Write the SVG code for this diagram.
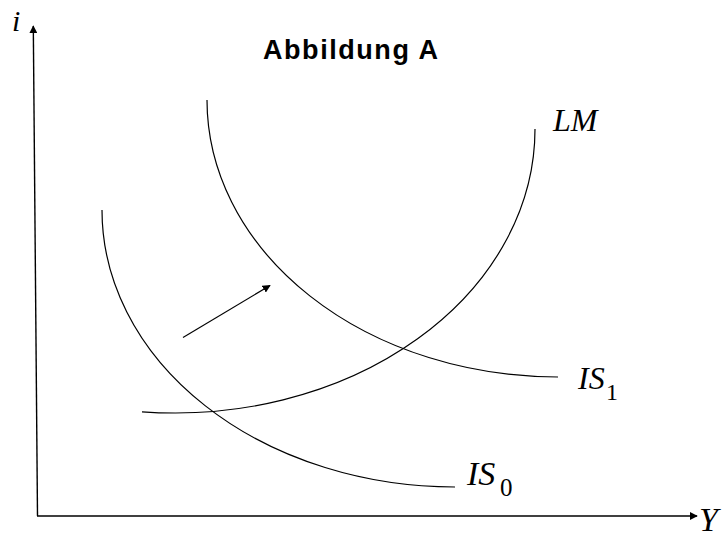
<svg xmlns="http://www.w3.org/2000/svg" width="722" height="537" viewBox="0 0 722 537">
<style>
.curve{fill:none;stroke:#000;stroke-width:1.2}
.axis{fill:none;stroke:#000;stroke-width:1.4}
.math{font-family:"Liberation Serif","Times New Roman",serif;font-style:italic;fill:#000}
.sub{font-family:"Liberation Serif","Times New Roman",serif;font-style:normal;fill:#000}
.title{font-family:"Liberation Sans",Arial,sans-serif;font-weight:bold;fill:#000}
</style>
<defs>
<marker id="ah" viewBox="0 0 10 10" refX="9" refY="5" markerWidth="8" markerHeight="8" markerUnits="userSpaceOnUse" orient="auto">
<path d="M0,0 L10,5 L0,10 Z" fill="#000"/>
</marker>
</defs>
<rect width="722" height="537" fill="#fff"/>
<g id="connectors">
<line id="y-axis" class="axis" x1="37.5" y1="516" x2="33.3" y2="26" marker-end="url(#ah)"/>
<line id="x-axis" class="axis" x1="37" y1="516" x2="697" y2="516" marker-end="url(#ah)"/>
<line id="shift-arrow" class="curve" x1="183" y1="337.5" x2="270" y2="285.5" marker-end="url(#ah)"/>
</g>
<g id="IS0">
<path class="curve" d="M102,210 A353,277 0 0 0 455,487"/>
<text class="math" x="467" y="485" font-size="34">IS</text>
<text class="sub" x="500" y="496" font-size="25">0</text>
</g>
<g id="IS1">
<path class="curve" d="M207,100 A351,277 0 0 0 558,377"/>
<text class="math" x="578" y="389" font-size="32">IS</text>
<text class="sub" x="606" y="400" font-size="24">1</text>
</g>
<g id="LM">
<path class="curve" d="M142,411.8 A360,284 0 0 0 535,129"/>
<text class="math" x="553" y="131" font-size="32">LM</text>
</g>
<g id="labels">
<text class="math" x="12" y="31" font-size="30">i</text>
<text class="math" x="699" y="531" font-size="34">Y</text>
<text class="title" x="263" y="59" font-size="27" textLength="175" lengthAdjust="spacing">Abbildung A</text>
</g>
</svg>
